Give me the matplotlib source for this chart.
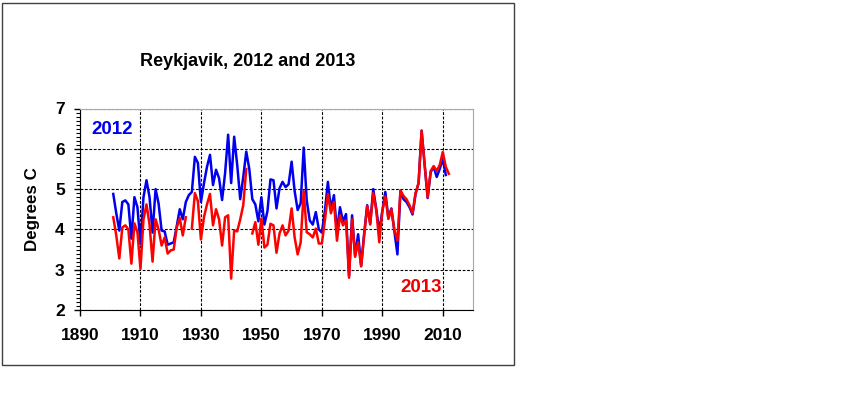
import numpy as np
import matplotlib
matplotlib.use('Agg')
from matplotlib import pyplot as plt
from matplotlib.patches import Rectangle
from matplotlib.ticker import MultipleLocator

plt.rcParams['font.family'] = ['Liberation Sans', 'DejaVu Sans']
plt.rcParams['font.weight'] = 'bold'

# Annual mean temperature, Reykjavik, two dataset versions
years_2012 = np.arange(1901, 2012)
temps_2012 = [
    4.88, 4.40, 3.97, 4.68, 4.72, 4.62, 3.77, 4.80, 4.55, 3.64,   # 1901-1910
    4.80, 5.22, 4.80, 3.92, 5.00, 4.64, 3.97, 3.95, 3.62, 3.65,   # 1911-1920
    3.68, 4.08, 4.50, 4.25, 4.68, 4.85, 4.93, 5.80, 5.65, 4.68,   # 1921-1930
    5.14, 5.55, 5.85, 5.10, 5.48, 5.27, 4.73, 5.40, 6.35, 5.15,   # 1931-1940
    6.30, 5.60, 4.75, 5.30, 5.93, 5.50, 4.75, 4.62, 4.20, 4.80,   # 1941-1950
    4.12, 4.45, 5.24, 5.22, 4.52, 5.02, 5.18, 5.05, 5.12, 5.68,   # 1951-1960
    4.95, 4.48, 4.65, 6.03, 4.72, 4.22, 4.12, 4.43, 4.00, 3.92,   # 1961-1970
    4.45, 5.18, 4.50, 4.85, 3.95, 4.55, 4.20, 4.38, 2.85, 4.35,   # 1971-1980
    3.35, 3.88, 3.10, 3.90, 4.60, 4.15, 5.00, 4.50, 3.95, 4.45,   # 1981-1990
    4.93, 4.28, 4.52, 3.95, 3.38, 4.95, 4.75, 4.68, 4.55, 4.37,   # 1991-2000
    4.88, 5.15, 6.45, 5.60, 4.78, 5.42, 5.55, 5.30, 5.50, 5.75,   # 2001-2010
    5.35,                                                         # 2011
]

years_2013 = np.arange(1901, 2013)
temps_2013 = [
    4.30, 3.85, 3.28, 4.05, 4.10, 4.00, 3.15, 4.15, 3.93, 3.02,   # 1901-1910
    4.25, 4.62, 4.12, 3.20, 4.25, 4.00, 3.60, 3.80, 3.40, 3.48,   # 1911-1920
    3.50, 4.05, 4.28, 3.85, 4.30, np.nan, 4.02, 4.90, 4.70, 3.75,  # 1921-1930
    4.30, 4.62, 4.88, 4.10, 4.50, 4.25, 3.60, 4.30, 4.35, 2.78,   # 1931-1940
    3.98, 3.95, 4.25, 4.60, 5.50, np.nan, 3.90, 4.18, 3.62, 4.27,  # 1941-1950
    3.55, 3.62, 4.14, 4.10, 3.42, 3.90, 4.10, 3.85, 3.97, 4.52,   # 1951-1960
    3.80, 3.38, 3.68, 4.95, 3.93, 3.88, 3.80, 4.02, 3.65, 3.65,   # 1961-1970
    4.22, 4.88, 4.40, 4.68, 3.72, 4.35, 4.10, 4.22, 2.80, 4.25,   # 1971-1980
    3.32, 3.68, 3.08, 3.85, 4.58, 4.12, 4.90, 4.48, 3.68, 4.45,   # 1981-1990
    4.82, 4.26, 4.50, 3.98, 3.72, 4.97, 4.83, 4.75, 4.60, 4.40,   # 1991-2000
    4.90, 5.15, 6.45, 5.62, 4.80, 5.45, 5.57, 5.45, 5.60, 5.92,   # 2001-2010
    5.55, 5.38,                                                   # 2011-2012
]

x_ticks = [1890, 1910, 1930, 1950, 1970, 1990, 2010]
y_ticks = [2, 3, 4, 5, 6, 7]

fig = plt.figure(figsize=(8.42, 3.96), dpi=100)

# thin frame around the chart area
fig.patches.append(Rectangle((2 / 842, 1 - 365 / 396), 512 / 842, 362 / 396,
                             transform=fig.transFigure, fill=False,
                             edgecolor='#404040', linewidth=1.0))

ax = fig.add_axes([80 / 842, 1 - 310 / 396, 393 / 842, 201.5 / 396])

ax.plot(years_2012, temps_2012, color='#0000ee', linewidth=1.8, zorder=3)
ax.plot(years_2013, temps_2013, color='#ff0000', linewidth=1.8, zorder=4)

ax.set_xlim(1890, 2020)
ax.set_ylim(2, 7)
ax.set_xticks(x_ticks)
ax.set_yticks(y_ticks)
ax.yaxis.set_minor_locator(MultipleLocator(0.1))
ax.tick_params(axis='both', which='major', direction='out', length=4,
               width=1, labelsize=12.5, colors='black')
ax.tick_params(axis='y', which='minor', direction='out', length=3, width=0.8)
ax.tick_params(axis='x', pad=9)
ax.tick_params(axis='y', pad=7)

ax.grid(True, which='major', color='black', linestyle=(0, (2.5, 1.5)),
        linewidth=0.8, zorder=1)
ax.set_axisbelow(True)

ax.spines['left'].set_color('black')
ax.spines['bottom'].set_color('black')
ax.spines['top'].set_color('#a8a8a8')
ax.spines['right'].set_color('#a8a8a8')

ax.set_ylabel('Degrees C', fontsize=12.2, fontweight='bold', labelpad=11)

fig.text(248 / 842, 1 - 62 / 396, 'Reykjavik, 2012 and 2013', ha='center',
         va='center', fontsize=13, fontweight='bold')
fig.text(112 / 842, 1 - 130 / 396, '2012', ha='center', va='center',
         fontsize=13.5, fontweight='bold', color='#0000ee')
fig.text(421 / 842, 1 - 288 / 396, '2013', ha='center', va='center',
         fontsize=13.5, fontweight='bold', color='#ee0000')

fig.savefig('out.png', dpi=100, facecolor='white')
